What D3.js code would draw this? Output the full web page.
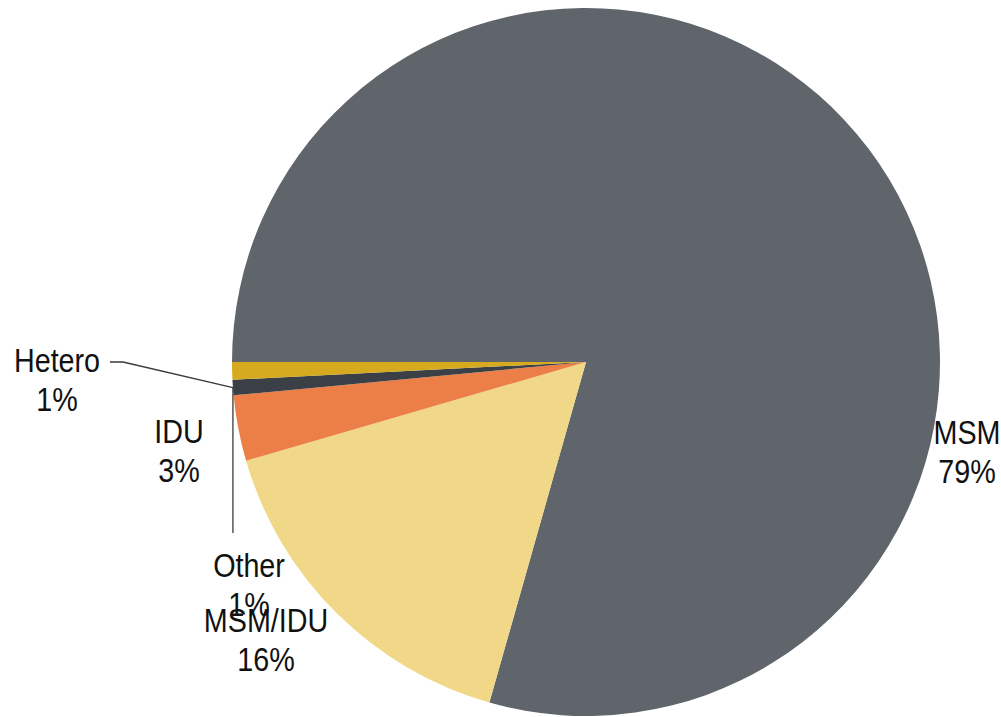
<!DOCTYPE html>
<html>
<head>
<meta charset="utf-8">
<script src="https://cdn.jsdelivr.net/npm/d3@7"></script>
<style>
  html, body { margin: 0; padding: 0; background: #fff; }
  svg { display: block; }
  text { font-family: "Liberation Sans", Arial, sans-serif; fill: #111; }
</style>
</head>
<body>
<svg id="chart" width="1001" height="717"></svg>
<script>
// ---- data ----
const categories = ["MSM", "MSM/IDU", "IDU", "Other", "Hetero"];
const values = [79.4, 16.1, 3.0, 0.7, 0.8];
const percentLabels = ["79%", "16%", "3%", "1%", "1%"];
const colors = ["#60656c", "#f1d888", "#ec7f47", "#3b4047", "#d6aa1e"];

// ---- layout ----
const W = 1001, H = 717;
const cx = 586, cy = 362, R = 354;
// label anchor (center x, first baseline) per category
const labelPos = {
  "MSM": [967, 444],
  "MSM/IDU": [266, 632],
  "IDU": [179, 443],
  "Other": [249, 577],
  "Hetero": [57, 372]
};
const lineGap = 39;

const svg = d3.select("#chart");
const g = svg.append("g").attr("transform", `translate(${cx},${cy})`);

const pie = d3.pie().sort(null).value(d => d.value)
  .startAngle(1.5 * Math.PI).endAngle(3.5 * Math.PI);
const data = categories.map((c, i) => ({ name: c, value: values[i], label: percentLabels[i], color: colors[i] }));
const arcs = pie(data);
const arc = d3.arc().innerRadius(0).outerRadius(R);

g.selectAll("path.slice").data(arcs).enter().append("path")
  .attr("class", "slice")
  .attr("d", arc)
  .attr("fill", d => d.data.color);

// leader lines to the "Other" slice outer edge
const otherArc = arcs.find(a => a.data.name === "Other");
const midA = (otherArc.startAngle + otherArc.endAngle) / 2;
const ox = cx + R * Math.sin(midA), oy = cy - R * Math.cos(midA);

const leaders = svg.append("g").attr("fill", "none").attr("stroke", "#3a3a3a").attr("stroke-width", 1.3);
leaders.append("polyline")
  .attr("points", [[110, 362], [123, 362], [ox, oy]].map(p => p.join(",")).join(" "));
leaders.append("polyline")
  .attr("points", [[ox, oy], [ox, 533]].map(p => p.join(",")).join(" "));

// labels (condensed look)
const lab = svg.append("g");
arcs.forEach(a => {
  const [x, y] = labelPos[a.data.name];
  const t = lab.append("g").attr("transform", `translate(${x},${y}) scale(0.87,1)`)
    .append("text").attr("text-anchor", "middle").attr("font-size", 33);
  t.append("tspan").attr("x", 0).attr("y", 0).text(a.data.name);
  t.append("tspan").attr("x", 0).attr("y", lineGap).text(a.data.label);
});
</script>
</body>
</html>
